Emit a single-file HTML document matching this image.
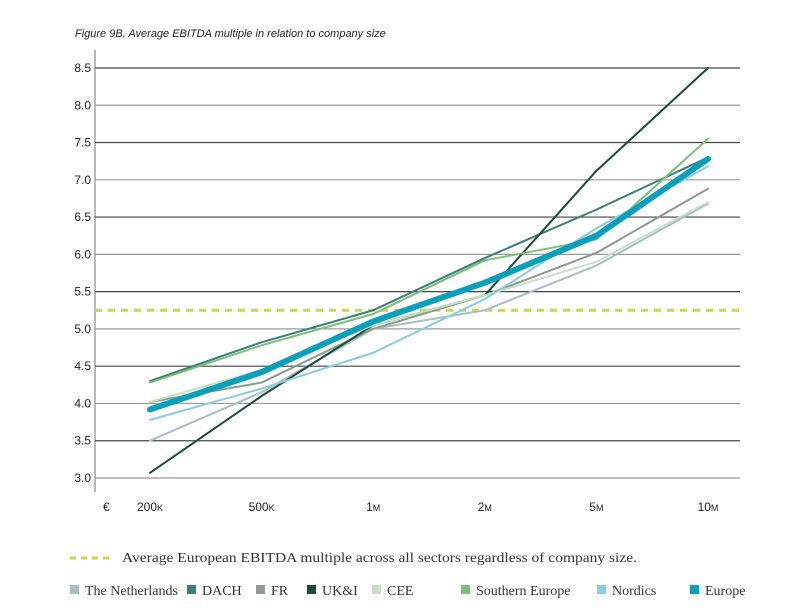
<!DOCTYPE html>
<html><head><meta charset="utf-8"><style>
body{margin:0;background:#fff;font-family:"Liberation Sans",sans-serif;}
svg text{font-family:"Liberation Sans",sans-serif;}
svg text.leg{font-family:"Liberation Serif",serif;}
</style></head><body>
<svg width="810" height="605">
<text x="75" y="37" font-size="11" font-style="italic" fill="#222">Figure 9B. Average EBITDA multiple in relation to company size</text>
<g id="grid"></g><g id="lines"></g><g id="xlab"></g>
<text x="103" y="511" font-size="12" fill="#222">€</text>
<line x1="70" y1="558" x2="112" y2="558" stroke="#c8d84a" stroke-width="3" stroke-dasharray="6,5"/>
<text class="leg" x="122" y="562" font-size="14" fill="#333" textLength="515" lengthAdjust="spacingAndGlyphs">Average European EBITDA multiple across all sectors regardless of company size.</text>
<g id="legend"></g>
</svg>
<script>
const categories=["200K","500K","1M","2M","5M","10M"];
const yTicks=[3.0,3.5,4.0,4.5,5.0,5.5,6.0,6.5,7.0,7.5,8.0,8.5];
const avgValue=5.25;
const seriesNames=["The Netherlands","DACH","FR","UK&I","CEE","Southern Europe","Nordics","Europe"];
const nlValues=[3.5,4.15,5.0,5.25,5.85,6.68];
const dachValues=[4.3,4.82,5.25,5.95,6.6,7.3];
const frValues=[4.02,4.28,5.0,5.45,6.02,6.88];
const ukiValues=[3.07,4.1,5.05,5.45,7.12,8.5];
const ceeValues=[4.02,4.45,5.05,5.45,5.9,6.7];
const southValues=[4.28,4.78,5.2,5.92,6.2,7.55];
const nordicsValues=[3.78,4.2,4.68,5.4,6.35,7.18];
const europeValues=[3.92,4.42,5.1,5.62,6.25,7.28];
const colors=["#a6bfc0","#3a7f7a","#8a9a90","#1a4a3a","#c5e0c0","#7cbf78","#88cde0","#0a9fba"];
const NS="http://www.w3.org/2000/svg";
const y=v=>478-(v-3)*74.55;
const x=i=>150+i*111.6;
function mk(t,a,p){const e=document.createElementNS(NS,t);for(const k in a)e.setAttribute(k,a[k]);p.appendChild(e);return e;}
const g=document.getElementById('grid');
const ax=mk('line',{x1:95,y1:50,x2:95,y2:492,stroke:'#888','stroke-width':1.2},g);


yTicks.forEach((v,i)=>{
 const l=mk('line',{x1:95,x2:740,y1:y(v),y2:y(v),stroke:i%2?'#444':'#999','stroke-width':1.2},g);
 
 
 const t=mk('text',{x:91,y:y(v)+4,'font-size':12,'text-anchor':'end',fill:'#222'},g);
 t.textContent=v.toFixed(1);
 
 
});
const lg=document.getElementById('lines');
const av=mk('line',{x1:95,x2:740,y1:y(avgValue),y2:y(avgValue),stroke:'#c8d84a','stroke-width':3,'stroke-dasharray':'7,6'},lg);


const all=[nlValues,dachValues,frValues,ukiValues,ceeValues,southValues,nordicsValues,europeValues];
all.forEach((s,k)=>{
 const p=mk('polyline',{points:s.map((v,i)=>x(i)+','+y(v)).join(' '),fill:'none',stroke:colors[k],'stroke-width':k==7?6:2,'stroke-linecap':'round','stroke-linejoin':'round'},lg);
 
 
});
const xl=document.getElementById('xlab');
categories.forEach((c,i)=>{
 const t=mk('text',{x:x(i),y:511,'font-size':12,'text-anchor':'middle',fill:'#222'},xl);
 t.textContent=c.slice(0,-1);
 const s=mk('tspan',{'font-size':9},t);s.textContent=c.slice(-1);
 
 
});
const leg=document.getElementById('legend');
const lx=[70,187,256,307,372,461,597,690];
seriesNames.forEach((n,k)=>{
 const r=mk('rect',{x:lx[k],y:585,width:9,height:9,fill:colors[k]},leg);
 
 
 const t=mk('text',{class:'leg',x:lx[k]+15,y:595,'font-size':14,fill:'#333'},leg);
 t.textContent=n;
 
 
});
</script>
</body></html>
